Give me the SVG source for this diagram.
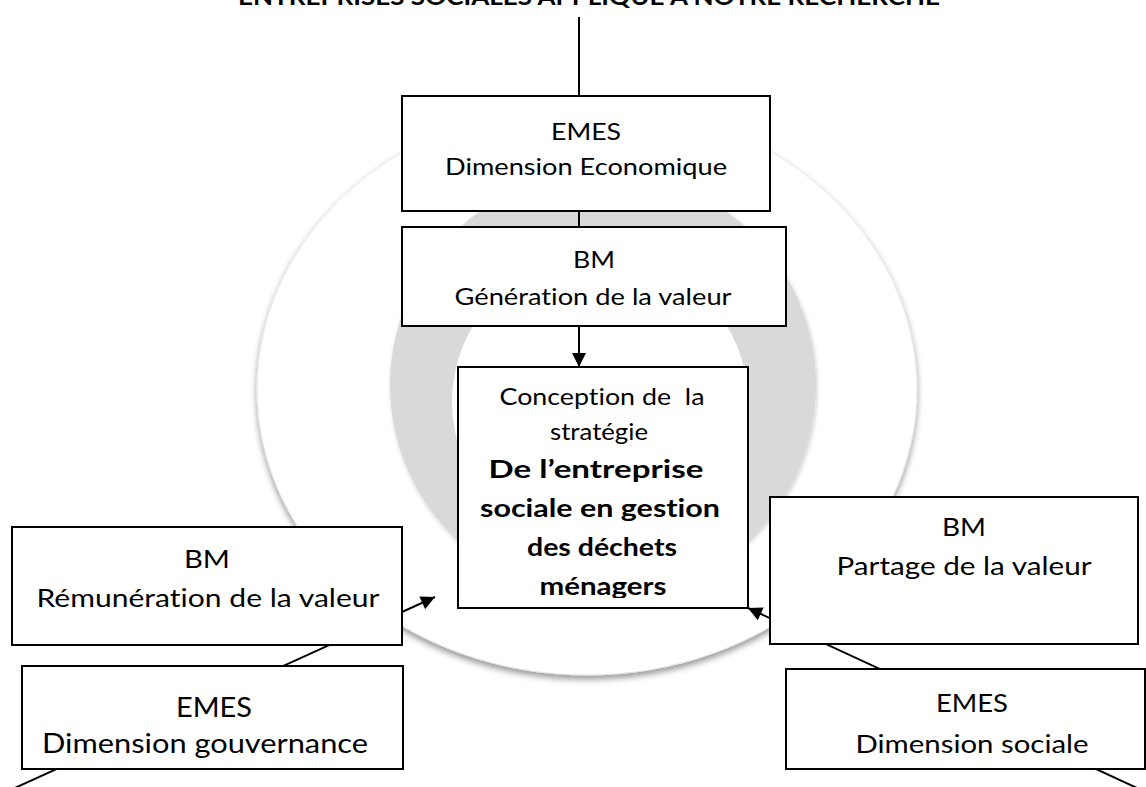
<svg xmlns="http://www.w3.org/2000/svg" width="1146" height="787" viewBox="0 0 1146 787">
  <style>
    .t { font-family: Lato, "Liberation Sans", sans-serif; fill: #000; text-anchor: middle; font-variant-ligatures: none; }
    .b { font-weight: bold; }
    .box { fill: #fff; stroke: #000; stroke-width: 2; }
    .conn { stroke: #000; stroke-width: 2; fill: none; }
    .pre { white-space: pre; }
  </style>
  <defs>
    <marker id="arrow" viewBox="0 0 10 10" refX="10" refY="5" markerUnits="userSpaceOnUse" markerWidth="15" markerHeight="14" orient="auto">
      <path d="M0,0 L10,5 L0,10 z" fill="#000"/>
    </marker>
    <filter id="shadow" x="-10%" y="-10%" width="120%" height="125%">
      <feDropShadow dx="0" dy="4" stdDeviation="3" flood-color="#000" flood-opacity="0.4"/>
    </filter>
    <filter id="shadow2" x="-10%" y="-10%" width="120%" height="125%">
      <feDropShadow dx="1" dy="2" stdDeviation="2" flood-color="#000" flood-opacity="0.2"/>
    </filter>
    <clipPath id="clipConc">
      <rect x="458" y="367" width="290" height="231"/>
    </clipPath>
  </defs>

  <rect x="0" y="0" width="1146" height="787" fill="#fff"/>

  <!-- title (cut at top, as in the reference) -->
  <text class="t b" x="238" y="4.5" font-size="22" style="text-anchor:start" textLength="702" lengthAdjust="spacingAndGlyphs">ENTREPRISES SOCIALES APPLIQUE A NOTRE RECHERCHE</text>

  <!-- background rings -->
  <g id="rings">
    <ellipse cx="587" cy="389" rx="330" ry="286" fill="#fff" stroke="#e6e6e6" stroke-width="1" filter="url(#shadow)"/>
    <circle cx="603" cy="385" r="213" fill="#d9d9d9" filter="url(#shadow2)"/>
    <circle cx="600" cy="402" r="148" fill="#fff"/>
  </g>

  <!-- connectors -->
  <g id="connectors">
    <line class="conn" x1="579" y1="17" x2="579" y2="96"/>
    <line class="conn" x1="579" y1="211" x2="579" y2="227"/>
    <line class="conn" x1="579" y1="326" x2="579" y2="367" marker-end="url(#arrow)"/>
    <line class="conn" x1="6" y1="792" x2="435" y2="597" marker-end="url(#arrow)"/>
    <line class="conn" x1="1150" y1="794" x2="748" y2="608" marker-end="url(#arrow)"/>
  </g>

  <g id="emes-economique">
    <rect class="box" x="402" y="96" width="368" height="115"/>
    <text class="t" x="586" y="140" font-size="23" textLength="70" lengthAdjust="spacingAndGlyphs">EMES</text>
    <text class="t" x="586" y="175" font-size="23" textLength="282" lengthAdjust="spacingAndGlyphs">Dimension Economique</text>
  </g>

  <g id="bm-generation">
    <rect class="box" x="402" y="227" width="384" height="99"/>
    <text class="t" x="594" y="268" font-size="22.5" textLength="42" lengthAdjust="spacingAndGlyphs">BM</text>
    <text class="t" x="593" y="305" font-size="22.5" textLength="277" lengthAdjust="spacingAndGlyphs">Génération de la valeur</text>
  </g>

  <g id="conception">
    <rect class="box" x="458" y="367" width="290" height="241"/>
    <g clip-path="url(#clipConc)">
      <text class="t pre" x="602" y="405" font-size="22.5" textLength="205" lengthAdjust="spacingAndGlyphs">Conception de  la</text>
      <text class="t" x="599" y="440" font-size="22.5" textLength="98" lengthAdjust="spacingAndGlyphs">stratégie</text>
      <text class="t b" x="596" y="478" font-size="25" textLength="215" lengthAdjust="spacingAndGlyphs">De l’entreprise</text>
      <text class="t b" x="600" y="517" font-size="25" textLength="240" lengthAdjust="spacingAndGlyphs">sociale en gestion</text>
      <text class="t b" x="602" y="556" font-size="25" textLength="150" lengthAdjust="spacingAndGlyphs">des déchets</text>
      <text class="t b" x="603" y="595" font-size="25" textLength="127" lengthAdjust="spacingAndGlyphs">ménagers</text>
    </g>
  </g>

  <g id="bm-remuneration">
    <rect class="box" x="12" y="527" width="390" height="118"/>
    <text class="t" x="207" y="568" font-size="25" textLength="46" lengthAdjust="spacingAndGlyphs">BM</text>
    <text class="t" x="208" y="607" font-size="25" textLength="343" lengthAdjust="spacingAndGlyphs">Rémunération de la valeur</text>
  </g>

  <g id="emes-gouvernance">
    <rect class="box" x="22" y="666" width="381" height="103"/>
    <text class="t" x="214" y="717" font-size="26" textLength="76" lengthAdjust="spacingAndGlyphs">EMES</text>
    <text class="t" x="205" y="753" font-size="26" textLength="326" lengthAdjust="spacingAndGlyphs">Dimension gouvernance</text>
  </g>

  <g id="bm-partage">
    <rect class="box" x="770" y="497" width="368" height="147"/>
    <text class="t" x="964" y="536" font-size="25" textLength="44" lengthAdjust="spacingAndGlyphs">BM</text>
    <text class="t" x="964" y="575" font-size="25" textLength="255" lengthAdjust="spacingAndGlyphs">Partage de la valeur</text>
  </g>

  <g id="emes-sociale">
    <rect class="box" x="786" y="669" width="359" height="100"/>
    <text class="t" x="972" y="712" font-size="25" textLength="72" lengthAdjust="spacingAndGlyphs">EMES</text>
    <text class="t" x="972" y="753" font-size="25" textLength="233" lengthAdjust="spacingAndGlyphs">Dimension sociale</text>
  </g>
</svg>
